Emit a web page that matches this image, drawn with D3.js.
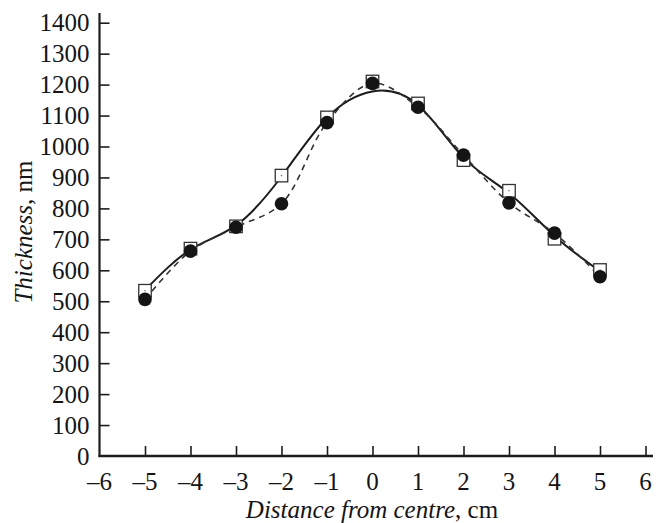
<!DOCTYPE html>
<html>
<head>
<meta charset="utf-8">
<script src="https://cdn.jsdelivr.net/npm/d3@7"></script>
<style>
  html, body { margin: 0; padding: 0; background: #fff; }
  svg { display: block; }
</style>
</head>
<body>
<svg id="chart" width="656" height="523"></svg>
<script>
// ---- data ----
const distances = [-5, -4, -3, -2, -1, 0, 1, 2, 3, 4, 5];
const squareValues = [534, 670, 742, 906, 1094, 1210, 1139, 956, 857, 702, 601];
const circleValues = [506, 662, 739, 815, 1077, 1204, 1127, 972, 818, 720, 579];
const solidFitValues = [536, 667, 745, 903, 1093, 1178, 1134, 964, 849, 711, 597];
const xTickValues = [-6, -5, -4, -3, -2, -1, 0, 1, 2, 3, 4, 5, 6];
const yTickValues = [0, 100, 200, 300, 400, 500, 600, 700, 800, 900, 1000, 1100, 1200, 1300, 1400];
const xTitle = ["Distance from centre", ", cm"];
const yTitle = ["Thickness", ", nm"];

// ---- layout ----
const FONT = "'Liberation Serif', 'Times New Roman', serif";
const svg = d3.select("#chart");
const x = d3.scaleLinear().domain([-6, 6]).range([99.5, 645.5]);
const y = d3.scaleLinear().domain([0, 1400]).range([456, 22.7]);
const ink = "#1c1c1c";
const textInk = "#151515";

const fmt = v => (v < 0 ? "\u2013" + Math.abs(v) : String(v));

// axes lines
svg.append("line").attr("x1", x(-6)).attr("x2", x(-6)).attr("y1", 457).attr("y2", 13)
  .attr("stroke", ink).attr("stroke-width", 2.2);
svg.append("line").attr("x1", x(-6) - 1).attr("x2", 653).attr("y1", y(0)).attr("y2", y(0))
  .attr("stroke", ink).attr("stroke-width", 2.4);

// x axis ticks and labels
const xAxis = d3.axisTop(x).tickValues(xTickValues.filter(v => v !== -6)).tickSize(10).tickFormat("");
const gx = svg.append("g").attr("transform", `translate(0,${y(0)})`).call(xAxis);
gx.select(".domain").remove();
gx.selectAll(".tick line").attr("stroke", ink).attr("stroke-width", 1.6);
svg.append("g").selectAll("text").data(xTickValues).join("text")
  .attr("x", d => x(d)).attr("y", 490)
  .attr("text-anchor", "middle").attr("font-size", 25)
  .style("font-family", FONT).attr("fill", textInk)
  .text(fmt);

// y axis ticks and labels
const yAxis = d3.axisRight(y).tickValues(yTickValues.filter(v => v !== 0)).tickSize(10).tickFormat("");
const gy = svg.append("g").attr("transform", `translate(${x(-6)},0)`).call(yAxis);
gy.select(".domain").remove();
gy.selectAll(".tick line").attr("stroke", ink).attr("stroke-width", 1.6);
svg.append("g").selectAll("text").data(yTickValues).join("text")
  .attr("x", 89.5).attr("y", d => y(d) + 8.5)
  .attr("text-anchor", "end").attr("font-size", 25)
  .style("font-family", FONT).attr("fill", textInk)
  .text(d => d);

// axis titles
const xt = svg.append("text").attr("x", 372).attr("y", 518).attr("text-anchor", "middle")
  .attr("font-size", 25).style("font-family", FONT).attr("fill", textInk);
xt.append("tspan").attr("font-style", "italic").text(xTitle[0]);
xt.append("tspan").text(xTitle[1]);
const yt = svg.append("text").attr("transform", "translate(32,232) rotate(-90)").attr("text-anchor", "middle")
  .attr("font-size", 25).style("font-family", FONT).attr("fill", textInk);
yt.append("tspan").attr("font-style", "italic").text(yTitle[0]);
yt.append("tspan").text(yTitle[1]);

// lines
const solidLine = d3.line().x((d, i) => x(distances[i])).y(d => y(d)).curve(d3.curveNatural);
svg.append("path").attr("d", solidLine(solidFitValues))
  .attr("fill", "none").attr("stroke", ink).attr("stroke-width", 2);

const dashLine = d3.line().x((d, i) => x(distances[i])).y(d => y(d)).curve(d3.curveCatmullRom.alpha(0.5));
svg.append("path").attr("d", dashLine(circleValues))
  .attr("fill", "none").attr("stroke", "#333").attr("stroke-width", 1.6)
  .attr("stroke-dasharray", "6,5");

// squares
const sq = 12.5;
const gs = svg.append("g");
gs.selectAll("rect").data(squareValues).join("rect")
  .attr("x", (d, i) => x(distances[i]) - sq / 2).attr("y", d => y(d) - sq / 2)
  .attr("width", sq).attr("height", sq)
  .attr("fill", "#fff").attr("stroke", "#333").attr("stroke-width", 1.3);
gs.selectAll("circle").data(squareValues).join("circle")
  .attr("cx", (d, i) => x(distances[i])).attr("cy", d => y(d)).attr("r", 0.8).attr("fill", "#777");

// circles
svg.append("g").selectAll("circle").data(circleValues).join("circle")
  .attr("cx", (d, i) => x(distances[i])).attr("cy", d => y(d)).attr("r", 6.8)
  .attr("fill", "#141414");
</script>
</body>
</html>
